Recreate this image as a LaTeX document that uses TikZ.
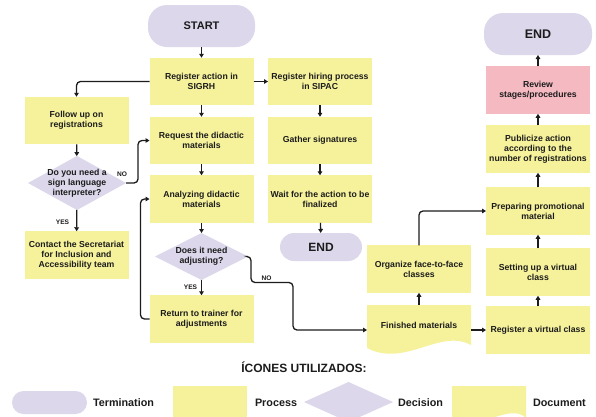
\documentclass[tikz,border=0pt]{standalone}
\usepackage{fontspec}
\setmainfont{Liberation Sans}
\usetikzlibrary{arrows.meta,shapes.geometric,calc}
\definecolor{yel}{HTML}{F6F29C}
\definecolor{lav}{HTML}{DCD7EB}
\definecolor{pnk}{HTML}{F5B9C2}
\definecolor{ink}{HTML}{1C1C1C}
\begin{document}
\begin{tikzpicture}[x=1pt,y=-1pt,
  every node/.style={text=ink, outer sep=0pt},
  box/.style={fill=yel, minimum width=104pt, minimum height=47.5pt, inner sep=0pt, align=center, font=\fontsize{8.7}{10}\selectfont\bfseries},
  term/.style={fill=lav, inner sep=0pt},
  dia/.style={diamond, fill=lav, inner sep=0pt},
  txt/.style={align=center, font=\fontsize{8.7}{10}\selectfont\bfseries, inner sep=0pt, text=ink},
  arr/.style={draw=ink, line width=1.3pt, -{Triangle[length=4pt,width=4.6pt]}},
  lbl/.style={font=\fontsize{6.6}{7}\selectfont\bfseries, inner sep=0pt},
  leg/.style={font=\fontsize{10.8}{12}\selectfont\bfseries, inner sep=0pt, anchor=west},
]
\useasboundingbox (0,0) rectangle (596,416);
\clip (0,0) rectangle (596,416);
\fill[white] (0,0) rectangle (596,416);

% column 2
\node[term, rounded corners=19pt, minimum width=107pt, minimum height=42pt, font=\fontsize{11}{12}\selectfont\bfseries] (start) at (201.5,26) {START};
\node[box] (sigrh) at (201.5,81.5) {Register action in\\SIGRH};
\node[box] (req) at (201.5,140.5) {Request the didactic\\materials};
\node[box] (ana) at (201.5,199) {Analyzing didactic\\materials};
\node[dia, minimum width=93pt, minimum height=47pt, label={[txt]center:Does it need\\adjusting?}] (adj) at (201.5,256.5) {};
\node[box] (ret) at (201.5,319) {Return to trainer for\\adjustments};

% column 1
\node[box] (follow) at (76.5,120.5) {Follow up on\\registrations};
\node[dia, minimum width=98pt, minimum height=54pt, label={[txt]center:Do you need a\\sign language\\interpreter?}] (sign) at (77,183) {};
\node[box] (contact) at (76.5,255) {Contact the Secretariat\\for Inclusion and\\Accessibility team};

% column 3
\node[box] (hire) at (320,81.5) {Register hiring process\\in SIPAC};
\node[box] (gath) at (320,140.5) {Gather signatures};
\node[box] (wait) at (320,199) {Wait for the action to be\\finalized};
\node[term, rounded corners=14pt, minimum width=82pt, minimum height=28pt, font=\fontsize{12}{13}\selectfont\bfseries] (end2) at (321,247) {END};

% column 4
\node[box] (org) at (419,269) {Organize face-to-face\\classes};
\node[txt, minimum width=104pt, minimum height=40pt] (fin) at (419,325) {};
\fill[yel] (fin.north west) -- (fin.north east) -- ($(fin.north east)+(0,40)$)
  .. controls ($(fin.north east)+(-31,23)$) and ($(fin.north west)+(38,63)$) .. ($(fin.north west)+(0,43)$) -- cycle;
\node[txt] (fintext) at (fin) {Finished materials};

% column 5
\node[term, rounded corners=19pt, minimum width=108pt, minimum height=42pt, font=\fontsize{12.5}{14}\selectfont\bfseries] (end1) at (538,34) {END};
\node[box, fill=pnk] (rev) at (538,90) {Review\\stages/procedures};
\node[box] (pub) at (538,149) {Publicize action\\according to the\\number of registrations};
\node[box] (prep) at (538,211) {Preparing promotional\\material};
\node[box] (setup) at (538,272) {Setting up a virtual\\class};
\node[box] (rvc) at (538,330) {Register a virtual class};

% connectors
\draw[arr] (start) -- (sigrh);
\draw[arr] (sigrh) -- (hire);
\draw[arr, rounded corners=4pt] (sigrh.west) -| (follow.north);
\draw[arr] (sigrh) -- (req);
\draw[arr] (req) -- (ana);
\draw[arr] (ana) -- (adj);
\draw[arr] (adj) -- (ret);
\node[lbl] (yes2) at (190.5,287) {YES};
\draw[arr, rounded corners=4pt] (ret.west) -- ++(-9,0) |- (ana.west);
\draw[arr] (follow) -- (sign);
\draw[arr] (sign) -- (contact);
\node[lbl] (yes1) at (62.5,222) {YES};
\draw[arr, rounded corners=4pt] (sign.east) -- ++(12,0) |- (req.west);
\node[lbl] (no1) at (122,174) {NO};
\draw[arr, rounded corners=4pt] (adj.east) -- ++(3,0) -- ++(0,26) -| ($(fin.west)+(-74,5)$) -- ($(fin.west)+(0,5)$);
\node[lbl] (no2) at (266.5,278) {NO};
\draw[arr] (hire) -- (gath);
\draw[arr] (gath) -- (wait);
\draw[arr] (wait) -- (end2);
\draw[arr] (fin) -- (org);
\draw[arr] ($(fin.east)+(0,5)$) -- (rvc.west);
\draw[arr, rounded corners=4pt] (org.north) |- (prep.west);
\draw[arr] (rvc) -- (setup);
\draw[arr] (setup) -- (prep);
\draw[arr] (prep) -- (pub);
\draw[arr] (pub) -- (rev);
\draw[arr] (rev) -- (end1);

% legend
\node[font=\fontsize{12}{13}\selectfont\bfseries, inner sep=0pt] (title) at (304,367) {ÍCONES UTILIZADOS:};
\node[term, rounded corners=11.5pt, minimum width=75pt, minimum height=23pt] (lterm) at (49.5,402.5) {};
\node[leg] (lterml) at (93,403) {Termination};
\node[fill=yel, minimum width=74pt, minimum height=34pt, inner sep=0pt] (lproc) at (210,403) {};
\node[leg] (lprocl) at (255,403) {Process};
\node[dia, minimum width=89pt, minimum height=40pt] (ldia) at (348.5,402) {};
\node[leg] (ldial) at (398,403) {Decision};
\node[minimum width=74pt, minimum height=32pt, inner sep=0pt] (ldoc) at (489,402) {};
\fill[yel] (ldoc.north west) -- (ldoc.north east) -- ($(ldoc.north east)+(0,32)$)
  .. controls ($(ldoc.north east)+(-16,16)$) and ($(ldoc.north west)+(28,46)$) .. ($(ldoc.north west)+(0,34)$) -- cycle;
\node[leg] (ldocl) at (533,403) {Document};
\end{tikzpicture}
\end{document}
